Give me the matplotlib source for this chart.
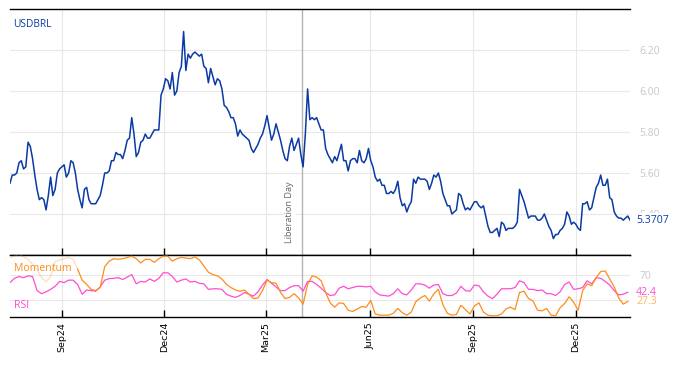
import pandas as pd
import matplotlib
matplotlib.use("Agg")
import matplotlib.pyplot as plt
import matplotlib.dates as mdates

# USDBRL close, every 2nd calendar day from 2024-07-17
price = [
    5.55, 5.59, 5.59, 5.60, 5.65, 5.66, 5.62, 5.63, 5.75, 5.73,
    5.67, 5.59, 5.52, 5.47, 5.48, 5.47, 5.42, 5.49, 5.58, 5.49,
    5.52, 5.60, 5.62, 5.63, 5.64, 5.58, 5.60, 5.66, 5.65, 5.60,
    5.52, 5.47, 5.43, 5.52, 5.53, 5.47, 5.45, 5.45, 5.45, 5.47,
    5.49, 5.54, 5.60, 5.60, 5.61, 5.66, 5.66, 5.70, 5.69, 5.69,
    5.67, 5.71, 5.76, 5.77, 5.87, 5.79, 5.68, 5.70, 5.75, 5.76,
    5.79, 5.77, 5.77, 5.79, 5.81, 5.81, 5.81, 5.98, 6.01, 6.06,
    6.05, 6.01, 6.09, 5.98, 6.00, 6.09, 6.12, 6.29, 6.10, 6.18,
    6.16, 6.18, 6.19, 6.18, 6.17, 6.18, 6.12, 6.11, 6.04, 6.11,
    6.07, 6.03, 6.06, 6.05, 6.01, 5.93, 5.92, 5.90, 5.87, 5.87,
    5.84, 5.78, 5.81, 5.79, 5.78, 5.77, 5.76, 5.72, 5.70, 5.72,
    5.74, 5.77, 5.79, 5.83, 5.88, 5.82, 5.76, 5.79, 5.84, 5.80,
    5.76, 5.71, 5.67, 5.66, 5.73, 5.77, 5.71, 5.74, 5.77, 5.69,
    5.63, 5.79, 6.01, 5.86, 5.87, 5.86, 5.87, 5.84, 5.81, 5.81,
    5.72, 5.69, 5.67, 5.65, 5.68, 5.66, 5.70, 5.74, 5.66, 5.66,
    5.61, 5.66, 5.67, 5.67, 5.65, 5.71, 5.66, 5.65, 5.67, 5.72,
    5.66, 5.63, 5.58, 5.56, 5.57, 5.54, 5.54, 5.50, 5.50, 5.51,
    5.50, 5.52, 5.56, 5.48, 5.44, 5.45, 5.41, 5.44, 5.46, 5.57,
    5.55, 5.58, 5.57, 5.57, 5.57, 5.56, 5.52, 5.55, 5.59, 5.58,
    5.60, 5.56, 5.50, 5.47, 5.44, 5.44, 5.40, 5.41, 5.42, 5.50,
    5.49, 5.45, 5.42, 5.43, 5.42, 5.44, 5.46, 5.46, 5.44, 5.43,
    5.44, 5.39, 5.34, 5.31, 5.31, 5.32, 5.33, 5.29, 5.36, 5.35,
    5.32, 5.33, 5.33, 5.33, 5.34, 5.36, 5.52, 5.49, 5.46, 5.42,
    5.38, 5.39, 5.39, 5.39, 5.37, 5.37, 5.38, 5.40, 5.37, 5.34,
    5.32, 5.28, 5.30, 5.30, 5.32, 5.33, 5.35, 5.41, 5.39, 5.35,
    5.36, 5.35, 5.33, 5.32, 5.45, 5.45, 5.46, 5.42, 5.43, 5.48,
    5.53, 5.55, 5.59, 5.54, 5.54, 5.57, 5.48, 5.47, 5.41, 5.39,
    5.38, 5.38, 5.37, 5.38, 5.39, 5.3707,
]

# oscillators, every 4th calendar day from 2024-07-17
rsi = [
    58, 65, 68, 66, 69, 68, 45, 40, 43, 47,
    52, 60, 58, 62, 62, 55, 39, 46, 45, 44,
    51, 62, 64.5, 65, 66, 63, 67, 71, 56, 60,
    59, 64, 60, 65, 74, 74, 68, 59, 62, 64,
    59, 60, 57, 56, 47, 48, 48, 47, 39, 36,
    34, 37, 42, 39, 36, 43, 54, 63, 57, 51,
    45, 45, 50, 53, 53, 44, 60, 60, 55, 49,
    42, 37, 38, 49, 52, 48, 50, 52, 52, 51,
    52, 43, 38, 37, 36, 40, 48, 40, 38, 46,
    56, 56, 54, 49, 54, 55, 40, 37, 37, 41,
    52, 45, 44, 54, 53, 43, 36, 32, 39, 48,
    48, 48, 50, 61, 58, 47, 47, 45, 46, 40,
    40, 37, 43, 55, 59, 47, 48, 50, 61, 56,
    66, 65, 60, 54, 45, 38, 39, 42.4,
]

momentum = [
    99, 101, 104, 100, 96, 88, 79, 66, 59, 68,
    92, 95, 97, 99, 96, 80, 62, 55, 47, 45,
    50, 84, 93, 97, 96, 97, 99, 101, 97, 90,
    96, 96, 91, 97, 101, 101, 93, 97, 99, 98,
    97, 100, 95, 85, 75, 71, 69, 64, 55, 50,
    46, 44, 46, 39, 32, 33, 45, 62, 58, 57,
    42, 32, 34, 40, 33, 23, 55, 69, 67, 61,
    42, 25, 18, 25, 24, 13, 11, 15, 19, 18,
    29, 7, 5, 5, 5, 8, 16, 9, 5, 10,
    27, 33, 37, 28, 40, 47, 22, 8, 5, 6,
    21, 14, 7, 20, 25, 10, 5, 4, 4, 7,
    15, 18, 14, 42, 44, 32, 28, 13, 12, 16,
    5, 4, 17, 24, 35, 26, 13, 45, 56, 53,
    66, 76, 77, 64, 51, 33, 23, 27.3,
]

price_dates = pd.date_range("2024-07-17", periods=len(price), freq="2D")
osc_dates = pd.date_range("2024-07-17", periods=len(rsi), freq="4D")
liberation_day = pd.Timestamp("2025-04-02")
price_ticks = [5.40, 5.60, 5.80, 6.00, 6.20]
osc_ticks = [30, 70]
warmup = 15  # first momentum points are shown faded

BLUE = "#0b3aa4"
ORANGE = "#ff8c1a"
PINK = "#ff4dd2"
GRID = "#e8e8e8"
LABEL_GREY = "#c8c8c8"
FONT = "Open Sans"

fig = plt.figure(figsize=(6.81, 3.66), dpi=100)
ax = fig.add_axes([10 / 681, 1 - 255 / 366, 620 / 681, 246 / 366])
ax2 = fig.add_axes([10 / 681, 1 - 317 / 366, 620 / 681, 62 / 366], sharex=ax)

# price panel
ax.plot(price_dates, price, color=BLUE, lw=1.1, zorder=3)
ax.set_ylim(5.20, 6.40)
ax.set_xlim(price_dates[0], price_dates[-1])

# oscillator panel
ax2.plot(osc_dates, rsi, color=PINK, lw=0.9, zorder=3)
ax2.plot(osc_dates[:warmup + 1], momentum[:warmup + 1], color=ORANGE, lw=0.9, alpha=0.3, zorder=3)
ax2.plot(osc_dates[warmup:], momentum[warmup:], color=ORANGE, lw=0.9, zorder=3)
ax2.set_ylim(2, 103)

for a in (ax, ax2):
    for side in ("left", "right"):
        a.spines[side].set_visible(False)
    for side in ("top", "bottom"):
        a.spines[side].set_color("black")
        a.spines[side].set_linewidth(1.0)
    a.grid(True, color=GRID, lw=0.8, zorder=0)
    a.yaxis.tick_right()
    a.tick_params(axis="y", length=0, pad=7, labelcolor=LABEL_GREY, labelsize=7.5)
    a.tick_params(axis="x", direction="in", length=5, width=1, color="black")
    a.axvline(liberation_day, color="#b4b4b4", lw=1.0, zorder=2)
    for lbl in a.get_yticklabels():
        lbl.set_family(FONT)

ax.set_yticks(price_ticks)
ax.set_yticklabels([f"{v:.2f}" for v in price_ticks], family=FONT)
ax2.set_yticks(osc_ticks)
ax2.set_yticklabels(["", "70"], family=FONT)

ax2.xaxis.set_major_locator(mdates.MonthLocator(bymonth=[3, 6, 9, 12]))
ax2.xaxis.set_major_formatter(mdates.DateFormatter("%b%y"))
plt.setp(ax.get_xticklabels(), visible=False)
plt.setp(ax2.get_xticklabels(), rotation=90, fontsize=6.8, color="black")

# labels
ax.text(0.005, 0.935, "USDBRL", transform=ax.transAxes, color=BLUE,
        fontsize=7.3, family=FONT, va="center", ha="left")
ax2.text(0.006, 0.79, "Momentum", transform=ax2.transAxes, color=ORANGE,
         fontsize=7.6, family=FONT, va="center", ha="left", zorder=5)
ax2.text(0.006, 0.18, "RSI", transform=ax2.transAxes, color=PINK,
         fontsize=7.6, family=FONT, va="center", ha="left", zorder=5)

ax.annotate("Liberation Day", xy=(liberation_day, 0.048),
            xycoords=("data", "axes fraction"), xytext=(-6, 0),
            textcoords="offset points", rotation=90, ha="right", va="bottom",
            fontsize=6.6, family=FONT, color="#666666", zorder=4,
            bbox=dict(facecolor="white", edgecolor="none", pad=1.5))

# last values on the right
ax.text(1.01, price[-1], f"{price[-1]:.4f}", transform=ax.get_yaxis_transform(),
        color=BLUE, fontsize=7.6, family=FONT, va="center", ha="left", clip_on=False,
        zorder=6, bbox=dict(facecolor="white", edgecolor="none", pad=0.8))
ax2.text(1.01, rsi[-1], f"{rsi[-1]:.1f}", transform=ax2.get_yaxis_transform(),
         color=PINK, fontsize=7.6, family=FONT, va="center", ha="left", clip_on=False,
         zorder=6)
ax2.text(1.01, momentum[-1], f"{momentum[-1]:.1f}", transform=ax2.get_yaxis_transform(),
         color="#ffb766", fontsize=7.6, family=FONT, va="center", ha="left", clip_on=False,
         zorder=6)

fig.savefig("out.png", dpi=100)
